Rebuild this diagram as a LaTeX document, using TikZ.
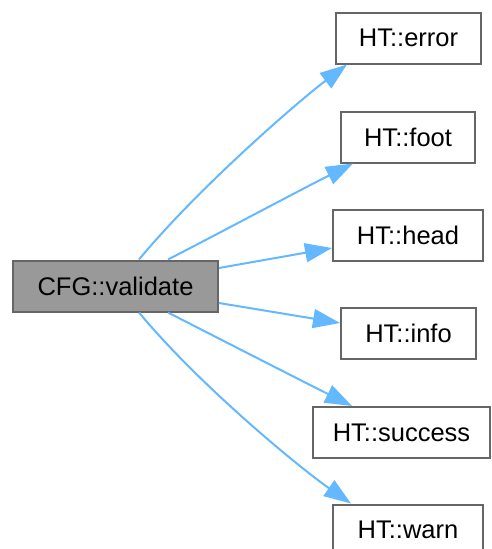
\documentclass[tikz,border=0pt]{standalone}
\usepackage{fontspec}
\setmainfont{Liberation Sans}
\usetikzlibrary{arrows.meta,calc}
\definecolor{edgeblue}{HTML}{63B8FF}
\definecolor{boxline}{HTML}{666666}
\definecolor{boxfill}{HTML}{999999}
\tikzset{
  fn/.style={draw=boxline, line width=2pt, fill=white, rectangle,
    minimum height=51pt, inner sep=0pt,
    font=\fontsize{25.5}{30}\selectfont},
  current/.style={fn, fill=boxfill},
  call/.style={draw=edgeblue, line width=2pt,
    -{Triangle[length=27pt,width=19pt]}}
}
\begin{document}
\begin{tikzpicture}[x=1pt,y=-1pt]
  \useasboundingbox (0,0) rectangle (491,549);
  % caller
  \node[current, minimum width=205pt] (cfg) at (115.5,286) {CFG::validate};
  % callees
  \node[fn, minimum width=145pt] (error)   at (408.5,38)  {HT::error};
  \node[fn, minimum width=134pt] (foot)    at (408,137)   {HT::foot};
  \node[fn, minimum width=150pt] (head)    at (408,235.5) {HT::head};
  \node[fn, minimum width=135pt] (info)    at (408.5,333.5) {HT::info};
  \node[fn, minimum width=177pt] (success) at (401.5,432.5) {HT::success};
  \node[fn, minimum width=150pt] (warn)    at (408,530) {HT::warn};
  % call edges
  \draw[call] ($(cfg.north west)+(127,0)$) .. controls (200,186) and (300,100) .. ($(error.south west)+(12,0)$);
  \draw[call] ($(cfg.north west)+(156,0)$) .. controls (212,237) and (300,190) .. ($(foot.south west)+(13,0)$);
  \draw[call] ($(cfg.east)+(0,-18)$) -- ($(head.west)+(0,12.5)$);
  \draw[call] ($(cfg.east)+(0,17)$) -- ($(info.west)+(0,-10.5)$);
  \draw[call] ($(cfg.south west)+(156,0)$) .. controls (212,335) and (300,380) .. ($(success.north west)+(40,0)$);
  \draw[call] ($(cfg.south west)+(127,0)$) .. controls (200,386) and (300,468) .. ($(warn.north west)+(19,0)$);
\end{tikzpicture}
\end{document}
